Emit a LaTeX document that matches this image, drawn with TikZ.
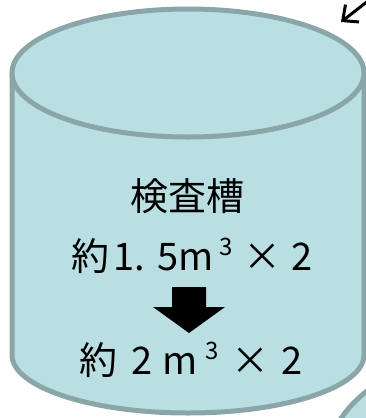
\documentclass[tikz,border=0pt]{standalone}
\usepackage{fontspec}
\newfontfamily\jp{Noto Sans CJK JP}
\usetikzlibrary{arrows.meta}
\definecolor{tankfill}{HTML}{B9DFE3}
\definecolor{tankline}{HTML}{8AA6A8}
\tikzset{
  tank/.style={fill=tankfill,draw=tankline,line width=5pt},
  label/.style={font=\jp\fontsize{38}{42}\selectfont,inner sep=0pt,anchor=center},
  pointer/.style={line width=3pt,-{Straight Barb[length=12pt,width=22pt]}}
}
\newcommand{\cubesup}{\raisebox{15pt}{\fontsize{24}{26}\selectfont 3}}
\begin{document}
\begin{tikzpicture}[x=1pt,y=-1pt]
\useasboundingbox (0,0) rectangle (366,418);
\begin{scope}
\clip (0,0) rectangle (366,418);
% second tank, partly visible bottom right
\draw[tank] (442,480) ellipse[x radius=120, y radius=114];
% main tank body
\draw[tank] (12,73) -- (12,355) arc[start angle=180,end angle=0,x radius=176,y radius=58] -- (364,73);
\draw[tank] (188,73) ellipse[x radius=176, y radius=64];
\end{scope}
% pointer arrow
\coordinate (ps) at (368,1);
\coordinate (pe) at (341,22);
\draw[pointer] (ps) -- (pe);
% texts
\node[label] (name) at (187,196) {検査槽};
\node[label] (old) at (192,256) {約\hspace{4pt}1.\hspace{12pt}5m\hspace{6pt}\cubesup\hspace{10pt}×\hspace{10pt}2};
\fill (172,287) -- (206,287) -- (206,307) -- (225,307) -- (189,333) -- (153,307) -- (172,307) -- cycle;
\node[label] (new) at (191,360) {約\hspace{14pt}2\hspace{10pt}m\hspace{8pt}\cubesup\hspace{12pt}×\hspace{12pt}2};
\end{tikzpicture}
\end{document}
